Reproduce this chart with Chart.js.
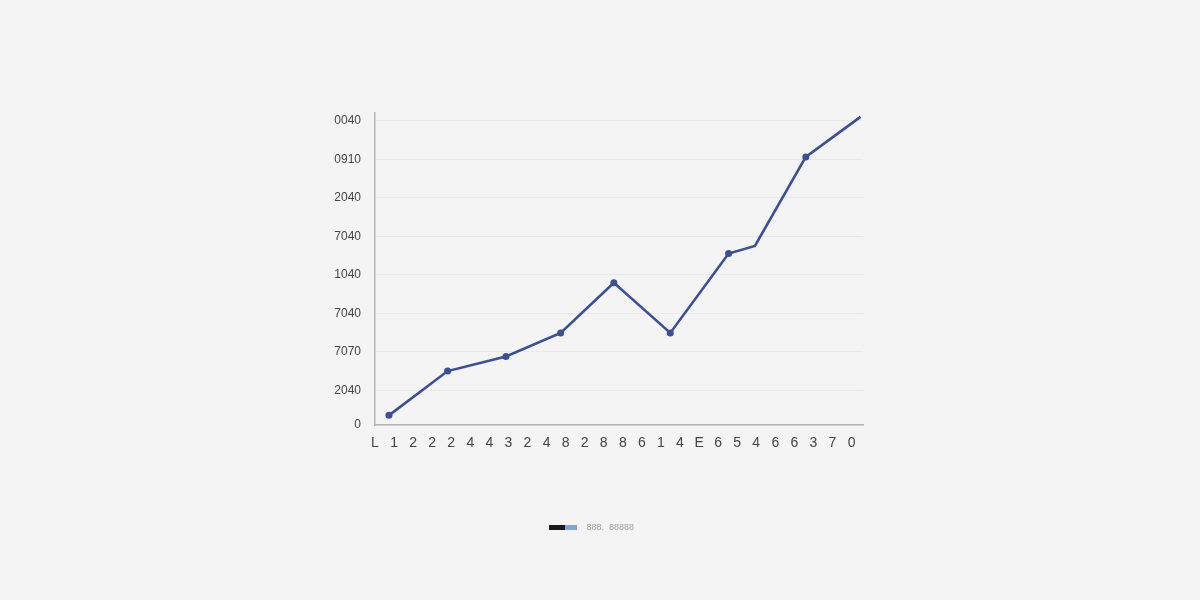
<!DOCTYPE html>
<html>
<head>
<meta charset="utf-8">
<script src="https://cdn.jsdelivr.net/npm/chart.js@4.4.1/dist/chart.umd.min.js"></script>
<style>
  html, body { margin: 0; padding: 0; background: #f4f4f4; }
  #wrap { width: 1200px; height: 600px; }
</style>
</head>
<body>
<div id="wrap"><canvas id="lineChart"></canvas></div>
<script>
// tick labels as printed on the chart
const xLabels = ['L','1','2','2','2','4','4','3','2','4','8','2','8','8','6','1','4','E','6','5','4','6','6','3','7','0'];
const yLabels = ['0','2040','7070','7040','1040','7040','2040','0910','0040'];

// series (x in label steps, y in gridline steps)
const seriesX = [0.73, 3.81, 6.87, 9.74, 12.53, 15.49, 18.55, 19.93, 22.60, 25.47];
const seriesY = [0.35, 1.50, 1.88, 2.49, 3.79, 2.49, 4.55, 4.75, 7.06, 8.10];

const legendText = '888.  88888';

// two-tone legend swatch
const swatch = document.createElement('canvas');
swatch.width = 28;
swatch.height = 5;
const sctx = swatch.getContext('2d');
sctx.fillStyle = '#1a1a1a';
sctx.fillRect(0, 0, 16, 5);
sctx.fillStyle = '#7aa6e0';
sctx.fillRect(16, 0, 12, 5);

// center the legend under the page rather than under the left part
const legendShift = {
  id: 'legendShift',
  afterLayout(chart) {
    const lg = chart.legend;
    if (!lg) return;
    lg.left = 0;
    lg.right = chart.width - 22;
  }
};

document.addEventListener('DOMContentLoaded', () => {
  const ctx = document.getElementById('lineChart');

  new Chart(ctx, {
    type: 'line',
    plugins: [legendShift],
    data: {
      datasets: [{
        label: legendText,
        data: seriesX.map((x, i) => ({ x: x, y: seriesY[i] })),
        borderColor: '#3b4f99',
        backgroundColor: '#3b4f99',
        borderWidth: 2.6,
        tension: 0,
        pointRadius: [3.5, 3.5, 3.5, 3.5, 3.5, 3.5, 3.5, 0, 3.5, 0],
        pointBackgroundColor: '#3b4f99',
        pointBorderWidth: 0,
        pointStyle: 'circle',
        fill: false,
      }]
    },
    options: {
      responsive: true,
      maintainAspectRatio: false,
      animation: false,
      layout: { padding: { left: 0, right: 337, top: 113, bottom: 58 } },
      plugins: {
        tooltip: { enabled: false },
        legend: {
          position: 'bottom',
          labels: {
            usePointStyle: true,
            pointStyleWidth: 38,
            padding: 10,
            color: '#a0a0a0',
            font: { family: "'Liberation Sans', sans-serif", size: 9 },
            generateLabels: chart => [{
              text: legendText,
              pointStyle: swatch,
              fillStyle: '#1a1a1a',
              strokeStyle: '#1a1a1a',
              lineWidth: 0,
              fontColor: '#a0a0a0',
              datasetIndex: 0,
            }]
          }
        }
      },
      scales: {
        x: {
          type: 'linear',
          min: 0,
          max: 25.6,
          afterBuildTicks: axis => { axis.ticks = xLabels.map((_, i) => ({ value: i })); },
          afterFit: axis => { axis.height = 88; },
          grid: { display: false, drawTicks: false },
          border: { color: '#b4b4b4', width: 1.5 },
          ticks: {
            autoSkip: false,
            maxRotation: 0,
            padding: 10,
            color: '#444',
            font: { family: "'Liberation Sans', sans-serif", size: 14 },
            callback: (v, i) => xLabels[i]
          }
        },
        y: {
          min: 0.1,
          max: 8.2,
          afterBuildTicks: axis => {
            axis.ticks = yLabels.map((_, i) => ({ value: i === 0 ? 0.1 : i }));
          },
          afterFit: axis => { axis.width = 375; },
          grid: {
            color: 'rgba(0,0,0,0.045)',
            drawTicks: false,
            lineWidth: 1
          },
          border: { color: '#b4b4b4', width: 1.5 },
          ticks: {
            padding: 14,
            color: '#444',
            font: { family: "'Liberation Sans', sans-serif", size: 12 },
            callback: (v, i) => yLabels[i]
          }
        }
      }
    }
  });
});
</script>
</body>
</html>
